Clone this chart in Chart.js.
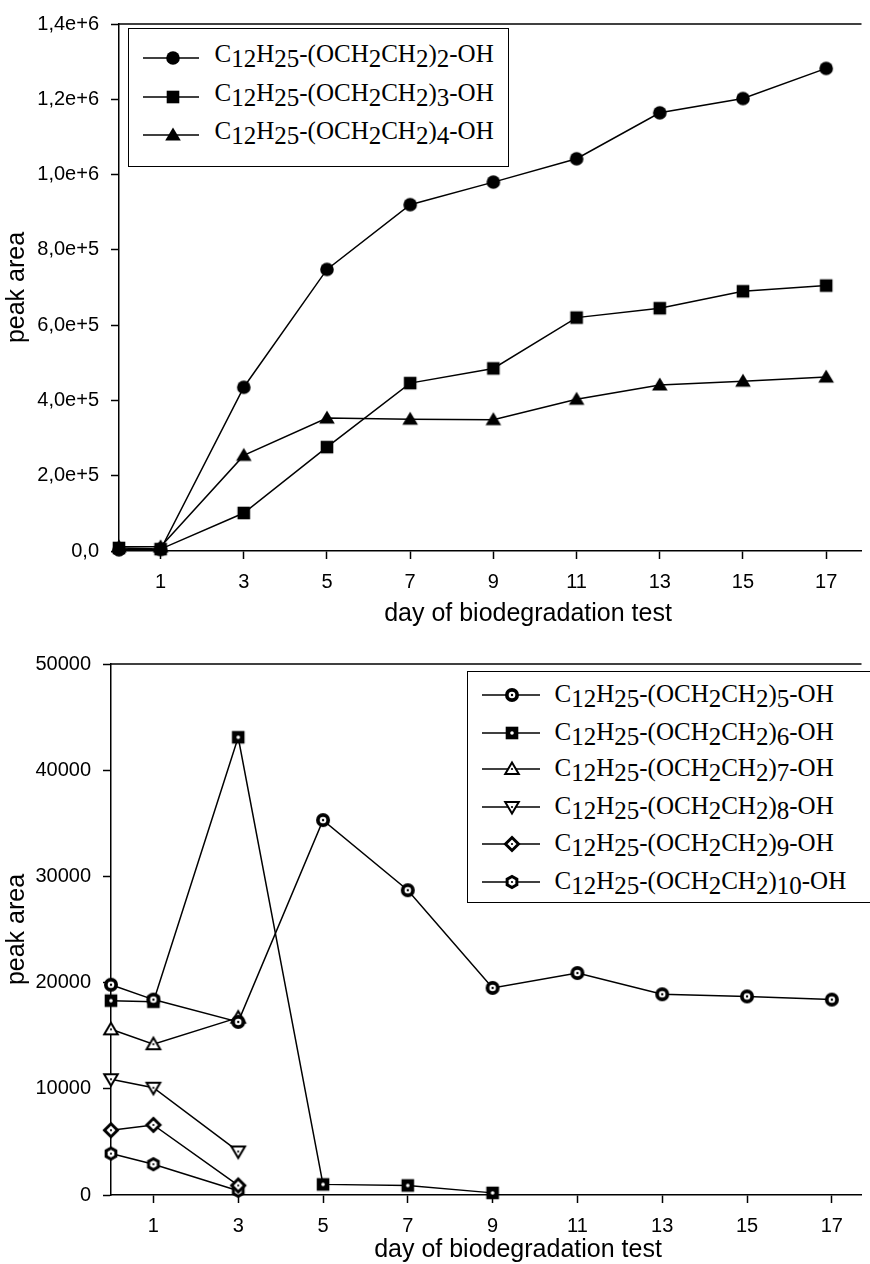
<!DOCTYPE html>
<html>
<head>
<meta charset="utf-8">
<title>peak area vs day of biodegradation test</title>
<script src="https://cdn.jsdelivr.net/npm/chart.js@4.4.1/dist/chart.umd.min.js"></script>
<style>
  html, body { margin: 0; padding: 0; background: #fff; }
  body { width: 870px; height: 1264px; position: relative; overflow: hidden; }
  canvas.chart { position: absolute; left: 0; }
  .xtitle {
    position: absolute; width: 400px; text-align: center; white-space: nowrap;
    font: 25px "Liberation Sans", Arial, sans-serif; line-height: 25px; color: #000;
  }
  .legend { position: absolute; border: 1.5px solid #000; background: #fff; }
  .legend canvas { position: absolute; }
  .legend .txt {
    position: absolute; white-space: nowrap; color: #000;
    font: 25px "Liberation Serif", "Times New Roman", serif; line-height: 25px;
  }
  .legend .txt span { position: relative; top: 5px; }
</style>
</head>
<body>
<canvas id="chart-top" class="chart" width="870" height="640" style="top:0"></canvas>
<canvas id="chart-bottom" class="chart" width="870" height="624" style="top:640px"></canvas>
<div id="legend-top" class="legend" style="left:128px;top:28px;width:379px;height:137px"></div>
<div id="legend-bottom" class="legend" style="left:467px;top:671px;width:420px;height:230px"></div>
<div class="xtitle" style="left:328px;top:600px">day of biodegradation test</div>
<div class="xtitle" style="left:318px;top:1236px">day of biodegradation test</div>

<script>
"use strict";

// x axis: sampling days
const days = [0, 1, 3, 5, 7, 9, 11, 13, 15, 17];
const daysEo6 = [0, 1, 3, 5, 7, 9];
const daysShort = [0, 1, 3];
const xTickValues = [1, 3, 5, 7, 9, 11, 13, 15, 17];

// top panel, short ethoxylates
const topNames = [
  "C12H25-(OCH2CH2)2-OH",
  "C12H25-(OCH2CH2)3-OH",
  "C12H25-(OCH2CH2)4-OH",
];
const eo2Area = [3000, 4000, 435000, 748000, 920000, 980000, 1042000, 1164000, 1202000, 1282000];
const eo3Area = [8000, 5000, 101000, 276000, 446000, 485000, 620000, 645000, 690000, 705000];
const eo4Area = [11000, 11000, 254000, 353000, 350000, 349000, 403000, 441000, 451000, 462000];
const topYTickValues = [0, 200000, 400000, 600000, 800000, 1000000, 1200000, 1400000];
const topYTickLabels = ["0,0", "2,0e+5", "4,0e+5", "6,0e+5", "8,0e+5", "1,0e+6", "1,2e+6", "1,4e+6"];

// bottom panel, longer ethoxylates
const bottomNames = [
  "C12H25-(OCH2CH2)5-OH",
  "C12H25-(OCH2CH2)6-OH",
  "C12H25-(OCH2CH2)7-OH",
  "C12H25-(OCH2CH2)8-OH",
  "C12H25-(OCH2CH2)9-OH",
  "C12H25-(OCH2CH2)10-OH",
];
const eo5Area = [19800, 18400, 16300, 35300, 28700, 19500, 20900, 18900, 18700, 18400];
const eo6Area = [18300, 18200, 43100, 1000, 900, 200];
const eo7Area = [15600, 14200, 16700];
const eo8Area = [10900, 10100, 4100];
const eo9Area = [6100, 6600, 900];
const eo10Area = [3900, 2900, 400];
const bottomYTickValues = [0, 10000, 20000, 30000, 40000, 50000];
const bottomYTickLabels = ["0", "10000", "20000", "30000", "40000", "50000"];

const SANS = '"Liberation Sans", Arial, sans-serif';
Chart.defaults.font.family = SANS;
Chart.defaults.color = "#000";

/*
  Marker shapes in the style of the original plot. Drawn on small canvases
  so Chart.js can use them as pointStyle, and reused in the legends.
*/
const drawMarker = (ctx, kind, x, y) => {
  ctx.save();
  ctx.translate(x, y);
  ctx.fillStyle = "#000";
  ctx.strokeStyle = "#000";
  const dot = (color, r) => {
    ctx.beginPath();
    ctx.arc(0, 0, r, 0, Math.PI * 2);
    ctx.fillStyle = color;
    ctx.fill();
  };
  const shape = (pts) => {
    ctx.beginPath();
    pts.forEach(([px, py], i) => (i ? ctx.lineTo(px, py) : ctx.moveTo(px, py)));
    ctx.closePath();
  };
  const openShape = (pts, lw) => {
    shape(pts);
    ctx.fillStyle = "#fff";
    ctx.fill();
    ctx.lineWidth = lw;
    ctx.stroke();
    dot("#000", 1.1);
  };
  const hex = [];
  for (let k = 0; k < 6; k++) {
    const a = Math.PI / 6 + k * Math.PI / 3;
    hex.push([5.6 * Math.cos(a), 5.6 * Math.sin(a)]);
  }
  switch (kind) {
    case "circle": dot("#000", 6.8); break;
    case "square": ctx.fillRect(-6.3, -6.3, 12.6, 12.6); break;
    case "triangle": shape([[0, -7.5], [7.8, 5.5], [-7.8, 5.5]]); ctx.fill(); break;
    case "circleDot": dot("#000", 7); dot("#fff", 3.3); dot("#000", 1.2); break;
    case "squareDot": ctx.fillRect(-6.3, -6.3, 12.6, 12.6); dot("#fff", 1.8); break;
    case "triangleDot": openShape([[0, -6.5], [6.8, 5], [-6.8, 5]], 2); break;
    case "triangleDownDot": openShape([[0, 6.5], [6.8, -5], [-6.8, -5]], 2); break;
    case "diamondDot": openShape([[0, -6.5], [6.5, 0], [0, 6.5], [-6.5, 0]], 3); break;
    case "hexDot": openShape(hex, 3); break;
  }
  ctx.restore();
};

const markerCanvas = (kind) => {
  const c = document.createElement("canvas");
  c.width = 20;
  c.height = 20;
  drawMarker(c.getContext("2d"), kind, 10, 10);
  return c;
};

const lineDataset = (label, xs, ys, kind) => ({
  label: label,
  data: xs.map((x, i) => ({ x: x, y: ys[i] })),
  borderColor: "#000",
  backgroundColor: "#000",
  borderWidth: 1.5,
  pointStyle: markerCanvas(kind),
  pointRadius: 7,
  pointHoverRadius: 7,
  tension: 0,
  fill: false,
  clip: false,
});

// frame line along the top of the plot area
const topFrame = {
  id: "topFrame",
  afterDraw(chart) {
    const { ctx, chartArea: a } = chart;
    ctx.save();
    ctx.strokeStyle = "#000";
    ctx.lineWidth = 1.5;
    ctx.beginPath();
    ctx.moveTo(a.left, a.top);
    ctx.lineTo(a.right, a.top);
    ctx.stroke();
    ctx.restore();
  },
};

const makeScales = (o) => ({
  x: {
    type: "linear",
    min: 0,
    max: o.xMax,
    afterBuildTicks: (s) => { s.ticks = xTickValues.map((v) => ({ value: v })); },
    afterFit: (s) => { s.height = o.xHeight; },
    grid: { drawOnChartArea: false, tickLength: 8, tickWidth: 1.5, tickColor: "#000" },
    border: { color: "#000", width: 1.5 },
    ticks: { font: { size: 20 }, padding: 11, maxRotation: 0, autoSkip: false, callback: (v) => String(v) },
  },
  y: {
    type: "linear",
    min: 0,
    max: o.yTicks[o.yTicks.length - 1],
    afterBuildTicks: (s) => { s.ticks = o.yTicks.map((v) => ({ value: v })); },
    afterFit: (s) => { s.width = o.yWidth; },
    grid: { drawOnChartArea: false, tickLength: 8, tickWidth: 1.5, tickColor: "#000" },
    border: { color: "#000", width: 1.5 },
    ticks: { font: { size: 20 }, padding: 12, autoSkip: false, callback: (v, i) => o.yLabels[i] },
    title: { display: true, text: "peak area", font: { size: 25 }, padding: { top: 2, bottom: 0 } },
  },
});

const makeChart = (canvas, datasets, o) => new Chart(canvas, {
  type: "line",
  data: { datasets: datasets },
  options: {
    responsive: false,
    animation: false,
    events: [],
    layout: { padding: { top: o.padTop, right: 1, bottom: 0, left: 0 } },
    plugins: { legend: { display: false }, tooltip: { enabled: false } },
    scales: makeScales(o),
  },
  plugins: [topFrame],
});

makeChart(document.querySelector("#chart-top"), [
  lineDataset(topNames[0], days, eo2Area, "circle"),
  lineDataset(topNames[1], days, eo3Area, "square"),
  lineDataset(topNames[2], days, eo4Area, "triangle"),
], { xMax: 17.85, xHeight: 89, yWidth: 119, padTop: 23, yTicks: topYTickValues, yLabels: topYTickLabels });

makeChart(document.querySelector("#chart-bottom"), [
  lineDataset(bottomNames[0], days, eo5Area, "circleDot"),
  lineDataset(bottomNames[1], daysEo6, eo6Area, "squareDot"),
  lineDataset(bottomNames[2], daysShort, eo7Area, "triangleDot"),
  lineDataset(bottomNames[3], daysShort, eo8Area, "triangleDownDot"),
  lineDataset(bottomNames[4], daysShort, eo9Area, "diamondDot"),
  lineDataset(bottomNames[5], daysShort, eo10Area, "hexDot"),
], { xMax: 17.7, xHeight: 69, yWidth: 111, padTop: 18, yTicks: bottomYTickValues, yLabels: bottomYTickLabels });

/*
  HTML legends, so the formula digits can be set as subscripts.
  Positions are page coordinates of the sample line, marker and text.
*/
const buildLegend = (box, names, kinds, o) => {
  const bx = box.offsetLeft + 1.5;
  const by = box.offsetTop + 1.5;
  names.forEach((name, i) => {
    const cy = o.rows[i];
    const c = document.createElement("canvas");
    c.width = o.x1 - o.x0;
    c.height = 24;
    c.style.left = (o.x0 - bx) + "px";
    c.style.top = (cy - 12 - by) + "px";
    const ctx = c.getContext("2d");
    ctx.strokeStyle = "#000";
    ctx.lineWidth = 1.5;
    ctx.beginPath();
    ctx.moveTo(0, 12);
    ctx.lineTo(o.x1 - o.x0, 12);
    ctx.stroke();
    drawMarker(ctx, kinds[i], o.mx - o.x0, 12);
    box.appendChild(c);

    const t = document.createElement("div");
    t.className = "txt";
    t.innerHTML = name.replace(/(\d+)/g, "<span>$1</span>");
    t.style.left = (o.tx - bx) + "px";
    t.style.top = (cy + o.base - 21 - by) + "px";
    box.appendChild(t);
  });
};

buildLegend(document.querySelector("#legend-top"), topNames,
  ["circle", "square", "triangle"],
  { rows: [58, 97, 135], x0: 143, x1: 199, mx: 173, tx: 215, base: 4 });

buildLegend(document.querySelector("#legend-bottom"), bottomNames,
  ["circleDot", "squareDot", "triangleDot", "triangleDownDot", "diamondDot", "hexDot"],
  { rows: [695, 733, 769, 807, 844, 882], x0: 482, x1: 540, mx: 512, tx: 555, base: 7.5 });
</script>
</body>
</html>
